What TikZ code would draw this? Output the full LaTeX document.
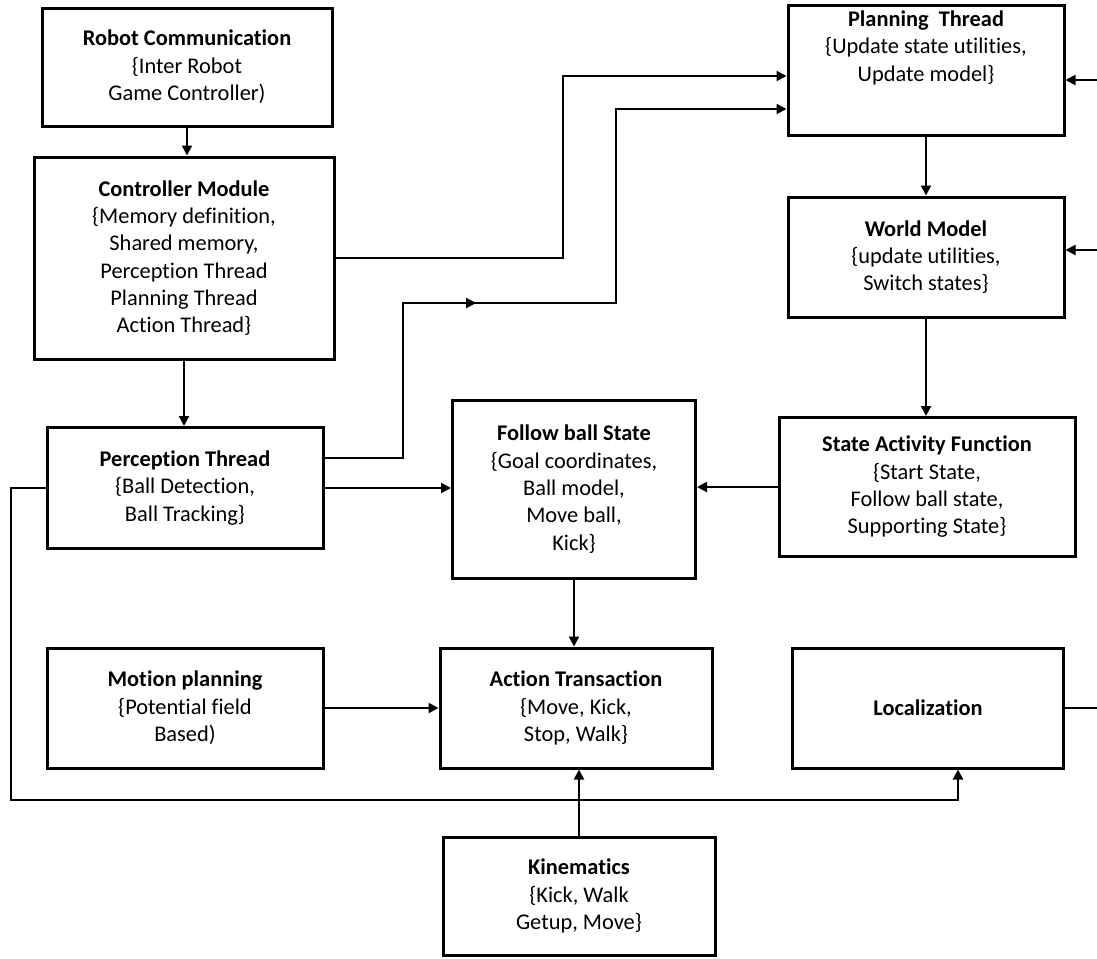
\documentclass[tikz,border=0pt]{standalone}
\usepackage{fontspec}
\setmainfont{Carlito}[Ligatures=NoCommon]
\usetikzlibrary{arrows.meta,calc,decorations.markings}
\newlength{\rbpx}\setlength{\rbpx}{0.75pt}
\tikzset{
  rb text/.style={align=center, font=\fontsize{16.8}{20.5}\selectfont},
  rb box/.style={rb text, draw=black, line width=2.25pt, fill=white, inner sep=2pt},
  rb tip/.tip={Triangle[length=7.5pt,width=7.5pt]},
  rb arrow/.style={-rb tip, line width=1.5pt},
  rb line/.style={line width=1.5pt}
}
\begin{document}
\begin{tikzpicture}[x=0.75pt, y=-0.75pt]
  \useasboundingbox (0,0) rectangle (1097,958);
  % left column
  \node[rb box, minimum width=290\rbpx, minimum height=118\rbpx] (comm) at (187,67)
    {\textbf{Robot Communication}\\\{Inter Robot\\Game Controller)};
  \node[rb box, minimum width=300\rbpx, minimum height=202\rbpx] (ctrl) at (184,258)
    {\textbf{Controller Module}\\\{Memory definition,\\Shared memory,\\Perception Thread\\Planning Thread\\Action Thread\}};
  \node[rb box, minimum width=276\rbpx, minimum height=121\rbpx] (perc) at (185,488)
    {\textbf{Perception Thread}\\\{Ball Detection,\\Ball Tracking\}};
  \node[rb box, minimum width=276\rbpx, minimum height=120\rbpx] (motion) at (185,708)
    {\textbf{Motion planning}\\\{Potential field\\Based)};
  % middle column
  \node[rb box, minimum width=243\rbpx, minimum height=178\rbpx] (follow) at (574,489)
    {\textbf{Follow ball State}\\\{Goal coordinates,\\Ball model,\\Move ball,\\Kick\}};
  \node[rb box, minimum width=272\rbpx, minimum height=120\rbpx] (action) at (576,708)
    {\textbf{Action Transaction}\\\{Move, Kick,\\Stop, Walk\}};
  \node[rb box, minimum width=272\rbpx, minimum height=118\rbpx] (kin) at (579,896)
    {\textbf{Kinematics}\\\{Kick, Walk\\Getup, Move\}};
  % right column
  \node[rb box, minimum width=276\rbpx, minimum height=130\rbpx] (plan) at (926,70) {};
  \node[rb text, anchor=north] (plantext) at (926,6)
    {\textbf{Planning\ \ Thread}\\\{Update state utilities,\\Update model\}};
  \node[rb box, minimum width=276\rbpx, minimum height=120\rbpx] (world) at (926,257)
    {\textbf{World Model}\\\{update utilities,\\Switch states\}};
  \node[rb box, minimum width=296\rbpx, minimum height=139\rbpx] (state) at (927,487)
    {\textbf{State Activity Function}\\\{Start State,\\Follow ball state,\\Supporting State\}};
  \node[rb box, minimum width=271\rbpx, minimum height=120\rbpx] (local) at (928,708)
    {\textbf{Localization}};
  \coordinate (planin) at (1097,80);
  \coordinate (worldin) at (1097,250);
  \coordinate (localout) at (1097,708);

  % connectors
  \draw[rb arrow] (comm.south) -- (comm.south |- ctrl.north);
  \draw[rb arrow] (ctrl.south) -- (ctrl.south |- perc.north);
  \draw[rb arrow] (ctrl.east) -- ++(227,0) |- ($(plan.west)+(0,6)$);
  \draw[rb arrow, postaction={decorate}, decoration={markings,
      mark=at position 230pt with {\arrow{rb tip}}}]
    ($(perc.east)+(0,-30)$) -- ++(78,0) -- ++(0,-155) -- ++(213,0) |- ($(plan.west)+(0,39)$);
  \draw[rb arrow] (perc.east) -- (perc.east -| follow.west);
  \draw[rb arrow] (state.west) -- (state.west -| follow.east);
  \draw[rb arrow] (plan.south) -- (plan.south |- world.north);
  \draw[rb arrow] (world.south) -- (world.south |- state.north);
  \draw[rb arrow] (follow.south) -- (follow.south |- action.north);
  \draw[rb arrow] (motion.east) -- (motion.east -| action.west);
  \draw[rb arrow] (kin.north) -- (kin.north |- action.south);
  \draw[rb arrow] (perc.west) -- ++(-35,0) -- ++(0,312) -| ($(local.south)+(30,0)$);
  \draw[rb arrow] (planin) -- (planin -| plan.east);
  \draw[rb arrow] (worldin) -- (worldin -| world.east);
  \draw[rb line] (local.east) -- (localout);
\end{tikzpicture}
\end{document}
